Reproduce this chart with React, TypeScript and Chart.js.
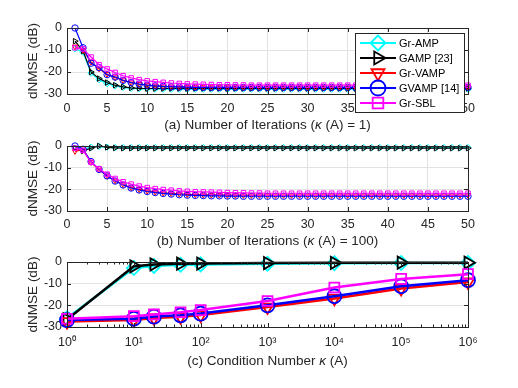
import React, { useEffect, useRef } from 'react';
import { Chart, registerables } from 'chart.js';
import { drawPoint } from 'chart.js/helpers';

Chart.register(...registerables);

// ---------------- data ----------------
const SERIES_LABELS = ['Gr-AMP', 'GAMP [23]', 'Gr-VAMP', 'GVAMP [14]', 'Gr-SBL'];
const SERIES_COLORS = ['#00ffff', '#000000', '#ff0000', '#0000ff', '#ff00ff'];

const ITERATIONS = [
  1, 2, 3, 4, 5, 6, 7, 8, 9, 10, 11, 12, 13, 14, 15, 16, 17, 18, 19, 20, 21, 22, 23, 24, 25,
  26, 27, 28, 29, 30, 31, 32, 33, 34, 35, 36, 37, 38, 39, 40, 41, 42, 43, 44, 45, 46, 47, 48, 49, 50,
];

// (a) kappa(A) = 1
const A_GRAMP = [
  -9.5, -11, -20.5, -23.5, -25.3, -26.3, -27, -27.4, -27.6, -27.7, -27.7, -27.8, -27.8, -27.8, -27.8, -27.8, -27.8,
  -27.8, -27.8, -27.8, -27.8, -27.8, -27.8, -27.8, -27.8, -27.8, -27.8, -27.8, -27.8, -27.8, -27.8, -27.8, -27.8,
  -27.8, -27.8, -27.8, -27.8, -27.8, -27.8, -27.8, -27.8, -27.8, -27.8, -27.8, -27.8, -27.8, -27.8, -27.8, -27.8, -27.8,
];
const A_GAMP = [
  -6, -10.5, -20, -23, -24.8, -26, -26.8, -27.2, -27.4, -27.5, -27.5, -27.5, -27.5, -27.5, -27.5, -27.5, -27.5,
  -27.5, -27.5, -27.5, -27.5, -27.5, -27.5, -27.5, -27.5, -27.5, -27.5, -27.5, -27.5, -27.5, -27.5, -27.5, -27.5,
  -27.5, -27.5, -27.5, -27.5, -27.5, -27.5, -27.5, -27.5, -27.5, -27.5, -27.5, -27.5, -27.5, -27.5, -27.5, -27.5, -27.5,
];
const A_GRVAMP = [
  -8.5, -10, -15.5, -18.5, -21, -22.5, -23.8, -24.8, -25.5, -26, -26.3, -26.5, -26.7, -26.8, -26.9, -27, -27,
  -27, -27, -27, -27, -27, -27, -27, -27, -27, -27, -27, -27, -27, -27, -27, -27,
  -27, -27, -27, -27, -27, -27, -27, -27, -27, -27, -27, -27, -27, -27, -27, -27, -27,
];
const A_GVAMP = [
  0, -9, -16, -18, -21.2, -22.3, -23.8, -24.8, -25.5, -26, -26.3, -26.5, -26.7, -26.8, -26.9, -27, -27,
  -27, -27, -27, -27, -27, -27, -27, -27, -27, -27, -27, -27, -27, -27, -27, -27,
  -27, -27, -27, -27, -27, -27, -27, -27, -27, -27, -27, -27, -27, -27, -27, -27, -27,
];
const A_GRSBL = [
  -9, -9.5, -13.2, -16.7, -18.6, -20.2, -21.7, -22.7, -23.5, -24, -24.4, -24.7, -25, -25.2, -25.4, -25.5, -25.6,
  -25.7, -25.8, -25.8, -25.9, -25.9, -26, -26, -26, -26, -26, -26, -26, -26, -26, -26, -26,
  -26, -26, -26, -26, -26, -26, -26, -26, -26, -26, -26, -26, -26, -26, -26, -26, -26,
];

// (b) kappa(A) = 100
const B_GRAMP = [
  -1, -1.5, -0.5, -0.2, -0.5, -0.7, -0.7, -0.7, -0.7, -0.7, -0.7, -0.7, -0.7, -0.7, -0.7, -0.7, -0.7,
  -0.7, -0.7, -0.7, -0.7, -0.7, -0.7, -0.7, -0.7, -0.7, -0.7, -0.7, -0.7, -0.7, -0.7, -0.7, -0.7,
  -0.7, -0.7, -0.7, -0.7, -0.7, -0.7, -0.7, -0.7, -0.7, -0.7, -0.7, -0.7, -0.7, -0.7, -0.7, -0.7, -0.7,
];
const B_GAMP = [
  -1, -2.3, -1, 0, -0.6, -0.9, -1, -1, -1, -1, -1, -1, -1, -1, -1, -1, -1,
  -1, -1, -1, -1, -1, -1, -1, -1, -1, -1, -1, -1, -1, -1, -1, -1,
  -1, -1, -1, -1, -1, -1, -1, -1, -1, -1, -1, -1, -1, -1, -1, -1, -1,
];
const B_GRVAMP = [
  -2.4, -1.8, -7.5, -11, -13.8, -16, -17.8, -19.2, -20, -20.7, -21.2, -21.6, -21.9, -22.1, -22.3, -22.4, -22.5,
  -22.6, -22.6, -22.7, -22.7, -22.7, -22.7, -22.7, -22.7, -22.7, -22.7, -22.7, -22.7, -22.7, -22.7, -22.7, -22.7,
  -22.7, -22.7, -22.7, -22.7, -22.7, -22.7, -22.7, -22.7, -22.7, -22.7, -22.7, -22.7, -22.7, -22.7, -22.7, -22.7, -22.7,
];
const B_GVAMP = [
  0, -1.5, -7.2, -10.8, -13.8, -16.2, -18, -19.4, -20.3, -21, -21.5, -21.9, -22.2, -22.5, -22.7, -22.8, -22.9,
  -23, -23, -23.1, -23.1, -23.2, -23.2, -23.2, -23.2, -23.2, -23.2, -23.2, -23.2, -23.2, -23.2, -23.2, -23.2,
  -23.2, -23.2, -23.2, -23.2, -23.2, -23.2, -23.2, -23.2, -23.2, -23.2, -23.2, -23.2, -23.2, -23.2, -23.2, -23.2, -23.2,
];
const B_GRSBL = [
  -1, -2, -7.5, -10.5, -13, -15, -16.5, -17.6, -18.5, -19.2, -19.7, -20.1, -20.4, -20.7, -20.9, -21.1, -21.2,
  -21.3, -21.4, -21.5, -21.6, -21.6, -21.7, -21.7, -21.8, -21.8, -21.8, -21.8, -21.8, -21.8, -21.8, -21.8, -21.8,
  -21.8, -21.8, -21.8, -21.8, -21.8, -21.8, -21.8, -21.8, -21.8, -21.8, -21.8, -21.8, -21.8, -21.8, -21.8, -21.8, -21.8,
];

// (c) condition number sweep
const C_KAPPA = [1, 10, 20, 50, 100, 1000, 10000, 100000, 1000000];
const C_GRAMP = [-26, -2.8, -1.8, -1.3, -1.1, -0.8, -0.6, -0.5, -0.5];
const C_GAMP = [-26.5, -2, -1.1, -0.8, -0.7, -0.5, -0.4, -0.3, -0.3];
const C_GRVAMP = [-27.5, -26.8, -25.8, -25.3, -24.5, -20.8, -16.8, -12.2, -9.2];
const C_GVAMP = [-26.8, -26.2, -25.2, -24.6, -23.8, -20, -15.8, -11.2, -8.4];
const C_GRSBL = [-26.2, -25, -24.2, -23.2, -22.2, -18, -11.8, -7.8, -5.6];

const C_TICK_VALUES = [1, 10, 100, 1000, 10000, 100000, 1000000];
const C_TICK_LABELS = ['10\u2070', '10\u00b9', '10\u00b2', '10\u00b3', '10\u2074', '10\u2075', '10\u2076'];
const ITER_TICKS = [0, 5, 10, 15, 20, 25, 30, 35, 40, 45, 50];
const Y_TICKS = [-30, -20, -10, 0];

// titles: [before kappa, kappa, after kappa]
const TITLE_A = ['(a) Number of Iterations (', '\u03ba', ' (A) = 1)'];
const TITLE_B = ['(b) Number of Iterations (', '\u03ba', ' (A) = 100)'];
const TITLE_C = ['(c) Condition Number ', '\u03ba', ' (A)'];
const Y_LABEL = 'dNMSE (dB)';

// ---------------- styling ----------------
const FONT = "'Liberation Sans', Arial, Helvetica, sans-serif";
const AXIS_COLOR = '#262626';
const GRID_COLOR = '#e2e2e2';
const TICK_SIZE = 12.5;
const TITLE_SIZE = 13.5;
const MARKERS = [
  { style: 'rectRot', rot: 0 },
  { style: 'triangle', rot: 90 },
  { style: 'triangle', rot: 180 },
  { style: 'circle', rot: 0 },
  { style: 'rect', rot: 0 },
];

Chart.defaults.font.family = FONT;
Chart.defaults.color = AXIS_COLOR;

const boxPlugin = {
  id: 'matlabBox',
  afterDatasetsDraw(chart: any, _args: any, opts: any) {
    const { ctx, chartArea } = chart;
    const { left, right, top, bottom } = chartArea;
    const xs = chart.scales.x;
    const ys = chart.scales.y;
    ctx.save();
    ctx.strokeStyle = AXIS_COLOR;
    ctx.lineWidth = 1;
    ctx.beginPath();
    const tl = 4;
    xs.ticks.forEach((t: any) => {
      const px = Math.round(xs.getPixelForValue(t.value)) + 0.5;
      ctx.moveTo(px, bottom);
      ctx.lineTo(px, bottom - tl);
      ctx.moveTo(px, top);
      ctx.lineTo(px, top + tl);
    });
    ys.ticks.forEach((t: any) => {
      const py = Math.round(ys.getPixelForValue(t.value)) + 0.5;
      ctx.moveTo(left, py);
      ctx.lineTo(left + tl, py);
      ctx.moveTo(right, py);
      ctx.lineTo(right - tl, py);
    });
    if (opts && opts.minor) {
      for (let e = 0; e < 6; e++) {
        for (let m = 2; m <= 9; m++) {
          const px = Math.round(xs.getPixelForValue(m * Math.pow(10, e))) + 0.5;
          ctx.moveTo(px, bottom);
          ctx.lineTo(px, bottom - 2.5);
          ctx.moveTo(px, top);
          ctx.lineTo(px, top + 2.5);
        }
      }
    }
    ctx.stroke();
    ctx.strokeRect(Math.round(left) + 0.5, Math.round(top) + 0.5, Math.round(right - left), Math.round(bottom - top));

    // x-axis title with italic kappa
    if (opts && opts.title) {
      const parts: string[] = opts.title;
      const fonts = [`${TITLE_SIZE}px ${FONT}`, `italic ${TITLE_SIZE}px ${FONT}`, `${TITLE_SIZE}px ${FONT}`];
      let total = 0;
      const widths = parts.map((t, i) => {
        ctx.font = fonts[i];
        const w = ctx.measureText(t).width;
        total += w;
        return w;
      });
      let x = (left + right) / 2 - total / 2;
      const y = bottom + opts.titleOffset;
      ctx.fillStyle = AXIS_COLOR;
      ctx.textBaseline = 'middle';
      ctx.textAlign = 'left';
      parts.forEach((t, i) => {
        ctx.font = fonts[i];
        ctx.fillText(t, x, y);
        x += widths[i];
      });
    }
    ctx.restore();
  },
};

const legendPlugin = {
  id: 'matlabLegend',
  afterDraw(chart: any, _args: any, opts: any) {
    if (!opts || !opts.show) return;
    const { ctx } = chart;
    const x0 = 355;
    const y0 = 33;
    const w = 109;
    const h = 79;
    ctx.save();
    ctx.fillStyle = '#ffffff';
    ctx.fillRect(x0, y0, w, h);
    ctx.strokeStyle = AXIS_COLOR;
    ctx.lineWidth = 1;
    ctx.strokeRect(x0 + 0.5, y0 + 0.5, w, h);
    chart.data.datasets.forEach((ds: any, i: number) => {
      const y = 43 + i * 15;
      ctx.strokeStyle = ds.borderColor;
      ctx.lineWidth = 2;
      ctx.beginPath();
      ctx.moveTo(360, y);
      ctx.lineTo(396, y);
      ctx.stroke();
      ctx.fillStyle = 'rgba(0,0,0,0)';
      ctx.lineWidth = 1.8;
      drawPoint(ctx, { pointStyle: ds.pointStyle, rotation: ds.pointRotation, radius: 7.5, borderWidth: 1.8 }, 378, y);
      ctx.fillStyle = '#000000';
      ctx.font = `11px ${FONT}`;
      ctx.textAlign = 'left';
      ctx.textBaseline = 'middle';
      ctx.fillText(ds.label, 399, y + 0.5);
    });
    ctx.restore();
  },
};

type PanelSpec = {
  padTop: number;
  padBottom: number;
  tickPad: number;
  titleOffset: number;
  title: string[];
  log: boolean;
  xValues: number[];
  series: number[][];
  pointRadius: number;
  pointBorder: number;
  lineWidth: number;
  legend: boolean;
};

const X_AXIS_H = 45;

function buildConfig(p: PanelSpec): any {
  const datasets = p.series.map((vals, i) => ({
    label: SERIES_LABELS[i],
    data: p.xValues.map((x, j) => ({ x, y: vals[j] })),
    borderColor: SERIES_COLORS[i],
    backgroundColor: 'rgba(0,0,0,0)',
    borderWidth: p.lineWidth,
    pointStyle: MARKERS[i].style,
    pointRotation: MARKERS[i].rot,
    pointRadius: p.pointRadius,
    pointBorderWidth: p.pointBorder,
    pointBorderColor: SERIES_COLORS[i],
    pointBackgroundColor: 'rgba(0,0,0,0)',
    tension: 0,
    clip: false,
    order: 5 - i,
  }));

  const xScale: any = p.log
    ? {
        type: 'logarithmic',
        min: 1,
        max: 1000000,
        afterBuildTicks: (s: any) => {
          s.ticks = C_TICK_VALUES.map((v) => ({ value: v }));
        },
        ticks: {
          autoSkip: false,
          maxRotation: 0,
          padding: p.tickPad,
          font: { size: TICK_SIZE },
          color: AXIS_COLOR,
          callback: (_v: any, idx: number) => C_TICK_LABELS[idx],
        },
        grid: { display: false, drawTicks: false },
        border: { display: false },
      }
    : {
        type: 'linear',
        min: 0,
        max: 50,
        afterBuildTicks: (s: any) => {
          s.ticks = ITER_TICKS.map((v) => ({ value: v }));
        },
        ticks: {
          autoSkip: false,
          maxRotation: 0,
          padding: p.tickPad,
          font: { size: TICK_SIZE },
          color: AXIS_COLOR,
        },
        grid: { color: GRID_COLOR, drawTicks: false },
        border: { display: false },
      };
  xScale.afterFit = (s: any) => {
    s.height = X_AXIS_H;
  };

  return {
    type: 'line',
    data: { datasets },
    options: {
      responsive: false,
      maintainAspectRatio: false,
      animation: false,
      devicePixelRatio: 1,
      events: [],
      layout: { padding: { left: 0, right: 50, top: p.padTop, bottom: p.padBottom } },
      plugins: {
        legend: { display: false },
        tooltip: { enabled: false },
        matlabBox: { minor: p.log, title: p.title, titleOffset: p.titleOffset },
        matlabLegend: { show: p.legend },
      },
      scales: {
        x: xScale,
        y: {
          type: 'linear',
          min: -30,
          max: 0,
          afterBuildTicks: (s: any) => {
            s.ticks = Y_TICKS.map((v) => ({ value: v }));
          },
          afterFit: (s: any) => {
            s.width = 67;
          },
          ticks: { padding: 5, font: { size: TICK_SIZE }, color: AXIS_COLOR },
          grid: { color: GRID_COLOR, drawTicks: false },
          border: { display: false },
          title: {
            display: true,
            text: Y_LABEL,
            font: { size: TITLE_SIZE },
            color: AXIS_COLOR,
            padding: { top: 25.4, bottom: 0 },
          },
        },
      },
    },
    plugins: [boxPlugin, legendPlugin],
  };
}

const PANELS: PanelSpec[] = [
  {
    padTop: 28,
    padBottom: 388 - 94 - X_AXIS_H,
    tickPad: 6.8,
    titleOffset: 31,
    title: TITLE_A,
    log: false,
    xValues: ITERATIONS,
    series: [A_GRAMP, A_GAMP, A_GRVAMP, A_GVAMP, A_GRSBL],
    pointRadius: 3.2,
    pointBorder: 1,
    lineWidth: 1.2,
    legend: true,
  },
  {
    padTop: 146,
    padBottom: 388 - 211 - X_AXIS_H,
    tickPad: 5.7,
    titleOffset: 30.7,
    title: TITLE_B,
    log: false,
    xValues: ITERATIONS,
    series: [B_GRAMP, B_GAMP, B_GRVAMP, B_GVAMP, B_GRSBL],
    pointRadius: 3.2,
    pointBorder: 1,
    lineWidth: 1.2,
    legend: false,
  },
  {
    padTop: 262,
    padBottom: 388 - 327 - X_AXIS_H,
    tickPad: 8.5,
    titleOffset: 34.7,
    title: TITLE_C,
    log: true,
    xValues: C_KAPPA,
    series: [C_GRAMP, C_GAMP, C_GRVAMP, C_GVAMP, C_GRSBL],
    pointRadius: 7,
    pointBorder: 1.8,
    lineWidth: 2.5,
    legend: false,
  },
];

export default function App() {
  const refA = useRef<HTMLCanvasElement | null>(null);
  const refB = useRef<HTMLCanvasElement | null>(null);
  const refC = useRef<HTMLCanvasElement | null>(null);

  useEffect(() => {
    const canvases = [refA.current, refB.current, refC.current];
    const charts: Chart[] = [];
    canvases.forEach((cv, i) => {
      if (cv) charts.push(new Chart(cv, buildConfig(PANELS[i])));
    });
    return () => charts.forEach((c) => c.destroy());
  }, []);

  const canvasStyle: React.CSSProperties = {
    position: 'absolute',
    left: 0,
    top: 0,
    width: 518,
    height: 388,
  };

  return (
    <div
      style={{
        position: 'absolute',
        left: 0,
        top: 0,
        width: 518,
        height: 388,
        background: '#ffffff',
        overflow: 'hidden',
      }}
    >
      <canvas ref={refC} width={518} height={388} style={canvasStyle} />
      <canvas ref={refB} width={518} height={388} style={canvasStyle} />
      <canvas ref={refA} width={518} height={388} style={canvasStyle} />
    </div>
  );
}
